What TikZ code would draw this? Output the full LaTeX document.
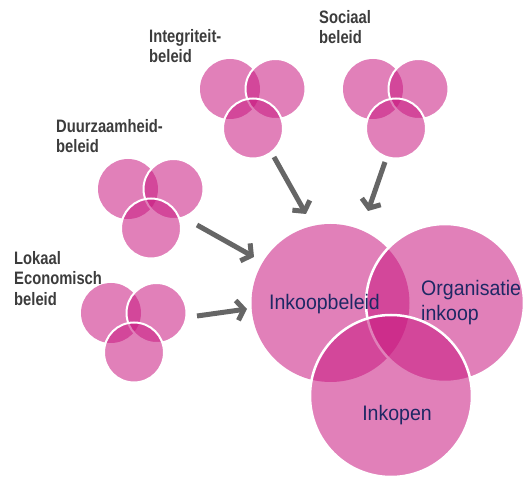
\documentclass[tikz,border=0pt]{standalone}
\usepackage{fontspec}
\usepackage{tikz}
\usetikzlibrary{arrows.meta}
\newfontfamily\labelfont[FakeStretch=0.82]{Liberation Sans}
\newfontfamily\vennfont[FakeStretch=0.93]{Liberation Sans}
\definecolor{vpink}{RGB}{200,24,128}
\definecolor{vnavy}{RGB}{30,40,100}
\definecolor{lgray}{RGB}{60,60,60}
\definecolor{agray}{RGB}{102,102,102}

\begin{document}
\begin{tikzpicture}[x=1pt,y=1pt,
	big/.style={circle, minimum size=158pt, inner sep=0pt, outer sep=0pt, fill=vpink, fill opacity=0.55},
	small/.style={circle, minimum size=60pt, inner sep=0pt, outer sep=0pt, fill=vpink, fill opacity=0.55},
	edged/.style={draw=white, line width=#1},
	edged/.default=2.5pt,
	lbl/.style={anchor=north west, inner sep=0pt, align=left, text=lgray, font=\labelfont\bfseries\fontsize{18}{20.5}\selectfont},
	vlbl/.style={inner sep=0pt, text=vnavy, font=\vennfont\fontsize{21}{25}\selectfont},
	arr/.style={draw=agray, line width=5pt, -{Straight Barb[length=7pt,width=20pt]}}]
		\useasboundingbox (0,0) rectangle (525,477);
		% small venns
		\foreach \n/\x/\y in {int/230/388, soc/373/388, duu/128/288, lok/111/164} {
			\node[small] (\n-l) at (\x,\y) {};
			\node[small,edged=2pt] (\n-r) at (\x+45.5,\y) {};
			\node[small,edged=2pt] (\n-b) at (\x+23,\y-39.5) {};
		}
		% big venn
		\node[big] (beleid) at (330.5,174) {};
		\node[big,edged] (organisatie) at (445,174) {};
		\node[big,edged,minimum size=162pt] (inkopen) at (391,81) {};
		\node[vlbl, anchor=base] (t-beleid) at (324.5,167) {Inkoopbeleid};
		\node[vlbl, anchor=north west, align=left] (t-organisatie) at (421,197.3) {Organisatie\\inkoop};
		\node[vlbl, anchor=base] (t-inkopen) at (397,57) {Inkopen};
		% labels
		\node[lbl] (l-int) at (149,448) {Integriteit-\\beleid};
		\node[lbl] (l-soc) at (319,467) {Sociaal\\beleid};
		\node[lbl] (l-duu) at (56,358) {Duurzaamheid-\\beleid};
		\node[lbl] (l-lok) at (14,226) {Lokaal\\Economisch\\beleid};
		% arrows
		\coordinate (int-from) at (274,320); \coordinate (int-to) at (306,263);
		\coordinate (soc-from) at (385,315); \coordinate (soc-to) at (368,266);
		\coordinate (duu-from) at (197,252); \coordinate (duu-to) at (254,220);
		\coordinate (lok-from) at (197,161); \coordinate (lok-to) at (247,168);
		\path
		(int-from) edge[arr] (int-to)
		(soc-from) edge[arr] (soc-to)
		(duu-from) edge[arr] (duu-to)
		(lok-from) edge[arr] (lok-to);
\end{tikzpicture}
\end{document}
